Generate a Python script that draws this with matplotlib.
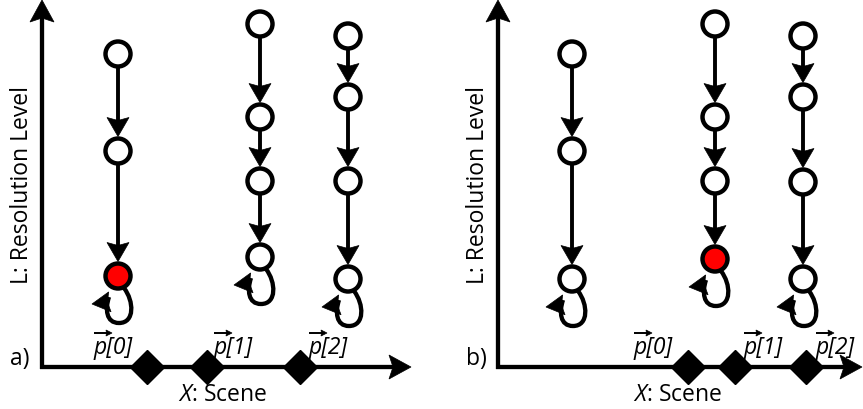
"""Multi-resolution scene diagram: nodes per resolution level, two panels"""

import numpy as np
import matplotlib
matplotlib.use('Agg')
import matplotlib.pyplot as plt
from matplotlib.patches import Circle, PathPatch, Polygon
from matplotlib.path import Path

plt.rcParams['font.family'] = ['Open Sans', 'DejaVu Sans']
plt.rcParams['mathtext.fontset'] = 'custom'
plt.rcParams['mathtext.rm'] = 'Open Sans'
plt.rcParams['mathtext.it'] = 'Open Sans:italic'
plt.rcParams['mathtext.bf'] = 'Open Sans:bold'

# ── Data (pixel layout of the figure) ──
panel_tags = ['a)', 'b)']
axis_origin_x = [42, 498]
axis_origin_y = 368
axis_end_x = [411, 862]
axis_top_y = 1

col_x = [[118, 260, 348], [572, 715, 803]]
node_y = [
    [[55, 152, 277], [25, 118, 182, 258], [37, 98, 182, 280]],
    [[55, 152, 280], [25, 118, 182, 260], [37, 98, 183, 280]],
]
red_node = [(0, 2), (1, 3)]  # (column, node index) that is highlighted

point_x = [[147, 207, 300], [688, 735, 806]]
point_labels = ['p[0]', 'p[1]', 'p[2]']
label_left = [[93, 213, 308], [633, 743, 815]]   # left edge of each label
label_baseline = 354

xlabel_x = [223, 678]
xlabel = r'$X$: Scene'
ylabel = 'L: Resolution Level'

R = 12.5
LW = 2.8
EDGE_LW = 3.2
AXIS_LW = 3.1
RED = '#ff0000'
FS = 16.5

fig = plt.figure(figsize=(8.63, 4.10), dpi=100)
ax = fig.add_axes([0, 0, 1, 1])
ax.set_xlim(0, 863)
ax.set_ylim(410, 0)
ax.axis('off')


def head(tip, d, L, W, notch):
    """Filled arrow head (slightly swept back) with its tip at `tip`, pointing along d."""
    tip = np.asarray(tip, float)
    d = np.asarray(d, float)
    d = d / np.hypot(*d)
    n = np.array([-d[1], d[0]])
    back = tip - d * L
    pts = [tip, back + n * W, tip - d * (L - notch), back - n * W]
    ax.add_patch(Polygon(pts, closed=True, facecolor='black', edgecolor='black',
                         lw=0.5, zorder=3))
    return tip - d * (L - notch - 1)


def arrow(p0, p1, lw=LW, L=19, W=11, notch=3):
    d = np.subtract(p1, p0)
    base = head(p1, d, L, W, notch)
    ax.plot([p0[0], base[0]], [p0[1], base[1]], color='black', lw=lw,
            solid_capstyle='butt', zorder=3)


def self_loop(cx, cy):
    # curl leaving the node at the bottom and coming back up on the left
    verts = [(cx + 6, cy + 12),
             (cx + 16, cy + 25), (cx + 17, cy + 47), (cx + 1, cy + 47),
             (cx - 12, cy + 47), (cx - 13, cy + 33), (cx - 9, cy + 21)]
    codes = [Path.MOVETO] + [Path.CURVE4] * 6
    ax.add_patch(PathPatch(Path(verts, codes), facecolor='none', edgecolor='black',
                           lw=3.1, capstyle='butt'))
    head((cx - 26, cy + 28), (-1.0, 0.12), 18, 10, 2.5)


for k in range(2):
    ox = axis_origin_x[k]
    # axes with arrows
    arrow((ox, axis_origin_y + 2), (ox, axis_top_y), lw=AXIS_LW, L=22, W=12, notch=4)
    arrow((ox - 2, axis_origin_y), (axis_end_x[k], axis_origin_y), lw=AXIS_LW,
          L=22, W=12, notch=4)

    ax.text(ox - 32, axis_origin_y - 9, panel_tags[k], fontsize=FS, ha='left', va='center')
    ax.text(ox - 20, 185, ylabel, fontsize=FS, rotation=90, ha='center', va='center')
    ax.text(xlabel_x[k], 395, xlabel, fontsize=FS, ha='center', va='center')

    # points on the scene axis
    for px, lab, lx in zip(point_x[k], point_labels, label_left[k]):
        ax.plot(px, axis_origin_y, marker='D', markersize=17, color='black', zorder=5)
        ax.text(lx, label_baseline, lab, fontsize=FS, style='italic', ha='left', va='baseline')
        arrow((lx + 1, label_baseline - 20), (lx + 19, label_baseline - 20),
              lw=1.4, L=6, W=3, notch=0.5)

    # columns of nodes
    for c, cx in enumerate(col_x[k]):
        ys = node_y[k][c]
        for i in range(len(ys) - 1):
            arrow((cx, ys[i] + R), (cx, ys[i + 1] - R - 2))
        for i, cy in enumerate(ys):
            fc = RED if (c, i) == red_node[k] else 'white'
            ax.add_patch(Circle((cx, cy), R, facecolor=fc, edgecolor='black',
                                lw=EDGE_LW, zorder=4))
        self_loop(cx, ys[-1])

fig.savefig('out.png', dpi=100)
